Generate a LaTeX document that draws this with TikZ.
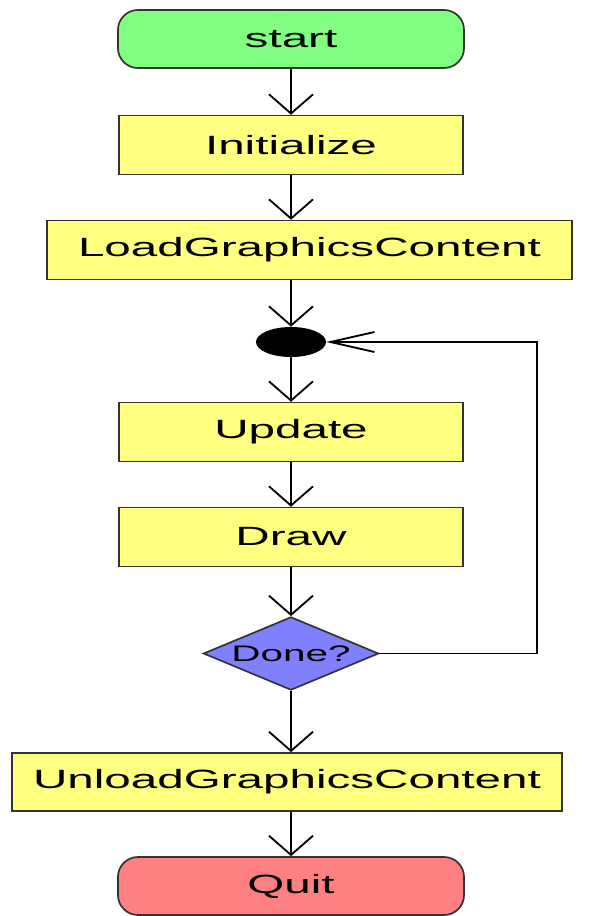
\documentclass[tikz,border=0pt]{standalone}
\usepackage{fontspec}
\setmainfont{Liberation Sans}[FakeStretch=1.8]
\usepackage{xcolor}
\usepackage{tikz}
\usetikzlibrary{shapes.geometric,arrows.meta}
\definecolor{startgreen}{RGB}{128,255,128}
\definecolor{boxyellow}{RGB}{255,255,128}
\definecolor{decblue}{RGB}{128,128,255}
\definecolor{quitred}{RGB}{255,128,128}

\begin{document}
\begin{tikzpicture}[x=0.025cm,y=-0.025cm,
        term node/.style={rectangle,rounded corners=0.5cm,draw=black!80,line width=1.2pt,
          minimum width=8.65cm,minimum height=1.45cm,font=\fontsize{18.8}{22}\selectfont},
        step node/.style={rectangle,draw=black!80,line width=1.2pt,fill=boxyellow,
          minimum height=1.47cm,font=\fontsize{18.8}{22}\selectfont},
        merge node/.style={ellipse,fill=black,inner sep=0pt,minimum width=1.75cm,minimum height=0.75cm},
        test node/.style={diamond,aspect=2.4,draw=black!80,line width=1.2pt,fill=decblue,inner sep=0pt,
          minimum width=4.38cm,minimum height=1.83cm,font=\fontsize{16}{18}\selectfont},
        flow/.style={draw,line width=1.3pt,-{Straight Barb[length=0.48cm,width=1.1cm]}},
        back flow/.style={draw,line width=1.3pt,-{Straight Barb[length=1.1cm,width=0.5cm]}}
      ]
      \useasboundingbox (0,0) rectangle (593,916);

      % nodes, top to bottom
      \node[term node,fill=startgreen] (start) at (291,39) {start};
      \node[step node,minimum width=8.6cm] (init) at (291,145) {Initialize};
      \node[step node,minimum width=13.12cm] (load) at (309.5,250) {LoadGraphicsContent};
      \node[merge node] (loop) at (291,342) {};
      \node[step node,minimum width=8.6cm] (update) at (291,432) {Update};
      \node[step node,minimum width=8.6cm] (drawstep) at (291,537) {Draw};
      \node[test node] (done) at (291,653.5) {Done?};
      \node[step node,minimum width=13.75cm,minimum height=1.45cm] (unload) at (287,782) {UnloadGraphicsContent};
      \node[term node,fill=quitred] (quit) at (291,886) {Quit};
      \coordinate (corner) at (537,653.5);

      % main flow
      \draw[flow] (start) -- (init);
      \draw[flow] (init) -- (init |- load.north);
      \draw[flow] (loop |- load.south) -- (loop);
      \draw[flow] (loop) -- (update);
      \draw[flow] (update) -- (drawstep);
      \draw[flow] (drawstep) -- (done);
      \draw[flow] (done) -- (done |- unload.north);
      \draw[flow] (quit |- unload.south) -- (quit);

      % back to the loop
      \draw[back flow] (done.east) -- (corner) |- (loop.east);
    \end{tikzpicture}
\end{document}
